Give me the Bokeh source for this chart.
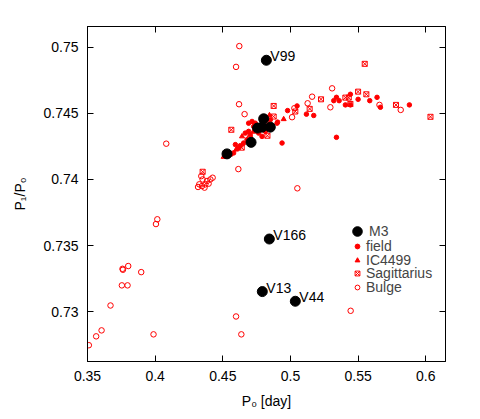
from bokeh.plotting import figure
from bokeh.models import (Range1d, FixedTicker, LinearAxis, Legend, LegendItem,
                          CustomJSTickFormatter, ColumnDataSource)
from bokeh.embed import file_html
from bokeh.resources import INLINE

# ---------------- data ----------------
m3_p0 = [0.4822, 0.4844, 0.4792, 0.5036, 0.4531, 0.4709, 0.4757, 0.4790, 0.4802, 0.4851]
m3_ratio = [0.7490, 0.7355, 0.73153, 0.7308, 0.74193, 0.7428, 0.74388, 0.74395, 0.74458, 0.74395]
m3_names = ["V99", "V166", "V13", "V44", "", "", "", "", "", ""]

field_p0 = [0.5118, 0.5172, 0.5320, 0.5340, 0.5360, 0.5406, 0.5443, 0.5443, 0.5500, 0.5586,
            0.5640, 0.5665, 0.5879, 0.5340, 0.4938, 0.4979, 0.5049, 0.4905,
            0.4580, 0.4617, 0.4654, 0.4679, 0.4703, 0.4691, 0.4765, 0.4790, 0.4728, 0.4740,
            0.4716, 0.4814, 0.4839, 0.4851, 0.4901, 0.4691, 0.4593, 0.4666, 0.4629]
field_ratio = [0.74493, 0.74483, 0.74595, 0.74620, 0.74595, 0.74563, 0.74643, 0.74563, 0.74605, 0.74595,
               0.74620, 0.74545, 0.74563, 0.74318, 0.74275, 0.74520, 0.74555, 0.74433,
               0.74200, 0.74238, 0.74275, 0.74300, 0.74338, 0.74363, 0.74350, 0.74325, 0.74400, 0.74425,
               0.74438, 0.74363, 0.74413, 0.74450, 0.74425, 0.74425, 0.74263, 0.74350, 0.74255]

ic_p0 = [0.4506, 0.4556, 0.4598, 0.4642, 0.4753, 0.4950, 0.4845, 0.4725, 0.4805]
ic_ratio = [0.74170, 0.74188, 0.74225, 0.74325, 0.74375, 0.74455, 0.74485, 0.74360, 0.74400]

sgr_p0 = [0.5549, 0.5226, 0.5142, 0.5500, 0.5561, 0.5406, 0.5431, 0.5443, 0.5780, 0.6035,
          0.4876, 0.5036, 0.4876, 0.4563, 0.4351, 0.4640, 0.4700, 0.4830]
sgr_ratio = [0.74873, 0.74605, 0.74533, 0.74663, 0.74643, 0.74618, 0.74618, 0.74570, 0.74563, 0.74473,
             0.74555, 0.74513, 0.74475, 0.74375, 0.74058, 0.74240, 0.74310, 0.74330]

bulge_p0 = [0.4622, 0.4598, 0.4620, 0.4661, 0.4082, 0.4615,
            0.4341, 0.4351, 0.4326, 0.4317, 0.4346, 0.4371, 0.4383, 0.4408, 0.4425, 0.4395, 0.4365,
            0.4016, 0.4006, 0.3759, 0.3762, 0.3801, 0.3897, 0.3754, 0.3796, 0.3670, 0.3604, 0.3564,
            0.3510, 0.3988, 0.4598, 0.4637, 0.5445, 0.5051,
            0.5160, 0.5127, 0.5029, 0.5012, 0.5308, 0.5295, 0.5658, 0.5815]
bulge_ratio = [0.75007, 0.74850, 0.74568, 0.74493, 0.74270, 0.74078,
               0.74025, 0.74000, 0.73963, 0.73943, 0.73950, 0.73963, 0.73988, 0.74000, 0.74013, 0.73968, 0.73938,
               0.73699, 0.73663, 0.73325, 0.73318, 0.73346, 0.73300, 0.73200, 0.73200, 0.73048, 0.72860, 0.72815,
               0.72748, 0.72830, 0.72965, 0.72830, 0.73008, 0.73933,
               0.74625, 0.74575, 0.74538, 0.74470, 0.74688, 0.74545, 0.74563, 0.74525]

x_ticks = [0.35, 0.40, 0.45, 0.50, 0.55, 0.60]
y_ticks = [0.730, 0.735, 0.740, 0.745, 0.750]

FONT = "Liberation Sans"

p = figure(width=472, height=411, output_backend="svg", toolbar_location=None,
           x_range=Range1d(0.35, 0.6146), y_range=Range1d(0.72625, 0.75155),
           min_border_left=87, min_border_right=27, min_border_top=26, min_border_bottom=48)
p.grid.visible = False
p.outline_line_color = "black"
p.outline_line_width = 1
p.background_fill_color = "white"
p.border_fill_color = "white"

fmt = CustomJSTickFormatter(code="return tick.toFixed(3).replace(/0+$/, '');")

def style_axis(ax, labels=True):
    ax.major_tick_in = 6
    ax.major_tick_out = 0
    ax.minor_tick_line_color = None
    ax.axis_line_color = "black"
    ax.major_tick_line_color = "black"
    ax.major_label_text_font = FONT
    ax.major_label_text_font_size = "14px"
    ax.major_label_text_color = "black"
    ax.axis_label_text_font = FONT
    ax.axis_label_text_font_size = "14px"
    ax.axis_label_text_font_style = "normal"
    ax.axis_label_text_color = "black"
    if labels:
        ax.formatter = fmt
    else:
        ax.major_label_text_color = None
        ax.major_label_text_font_size = "1px"
        ax.major_label_standoff = 0

xa = p.xaxis[0]
xa.ticker = FixedTicker(ticks=x_ticks)
style_axis(xa)
xa.axis_label = "P₀ [day]"
xa.major_label_standoff = 9
xa.axis_label_standoff = 9

ya = p.yaxis[0]
ya.ticker = FixedTicker(ticks=y_ticks)
style_axis(ya)
ya.axis_label = "P₁/P₀"
ya.major_label_standoff = 9
ya.axis_label_standoff = 12

top = LinearAxis(ticker=FixedTicker(ticks=x_ticks))
style_axis(top, labels=False)
p.add_layout(top, "above")
right = LinearAxis(ticker=FixedTicker(ticks=y_ticks))
style_axis(right, labels=False)
p.add_layout(right, "right")

RED = "#ff0000"
r_bulge = p.scatter(bulge_p0, bulge_ratio, marker="circle", size=5.5, fill_color=None,
                    line_color=RED, line_width=1)
r_sgr = p.scatter(sgr_p0, sgr_ratio, marker="square_x", size=5, fill_color=None,
                  line_color=RED, line_width=1)
r_ic = p.scatter(ic_p0, ic_ratio, marker="triangle", size=5, fill_color=RED,
                 line_color=RED, line_width=1)
r_field = p.scatter(field_p0, field_ratio, marker="circle", size=4.5, fill_color=RED,
                    line_color=RED, line_width=1)
r_m3 = p.scatter(m3_p0, m3_ratio, marker="circle", size=10, fill_color="black",
                 line_color="black")

src = ColumnDataSource(dict(x=m3_p0[:4], y=m3_ratio[:4], t=m3_names[:4]))
p.text("x", "y", text="t", source=src, x_offset=4, y_offset=-4,
       text_font_size="14px", text_color="black", text_baseline="alphabetic",
       text_align="left", text_font={"value": FONT})

def add_legend(label, renderer, loc, gw, gh, standoff):
    lg = Legend(items=[LegendItem(label=label, renderers=[renderer])], location=loc)
    lg.background_fill_alpha = 0
    lg.border_line_color = None
    lg.padding = 0
    lg.margin = 0
    lg.label_text_font = FONT
    lg.label_text_font_size = "14px"
    lg.glyph_width = gw
    lg.glyph_height = gh
    lg.label_height = gh
    lg.label_standoff = standoff
    p.add_layout(lg)

add_legend("M3", r_m3, (258, 118), 24, 24, -4)
add_legend("field", r_field, (264, 107), 12, 14, 3)
add_legend("IC4499", r_ic, (264, 93), 12, 14, 3)
add_legend("Sagittarius", r_sgr, (264, 80), 12, 14, 3)
add_legend("Bulge", r_bulge, (264, 66), 12, 14, 3)

open("out.html", "w").write(file_html(p, INLINE))
